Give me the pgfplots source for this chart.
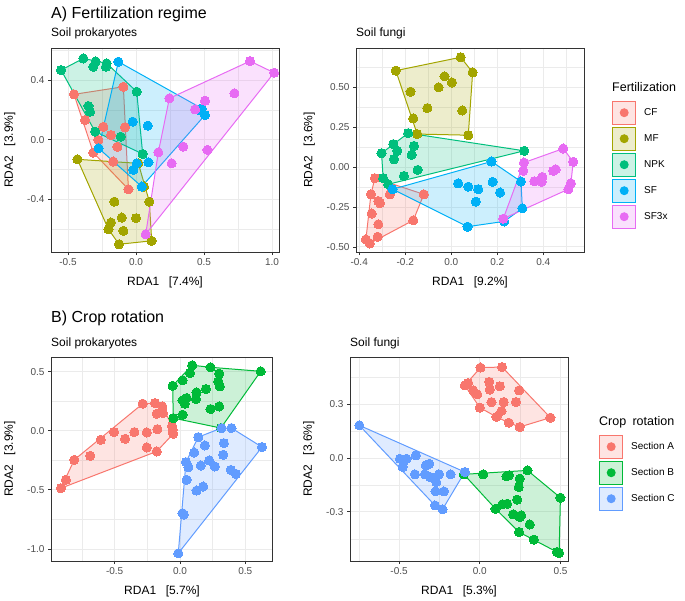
\documentclass[border=0pt]{standalone}
\usepackage{fontspec}
\setmainfont{Liberation Sans}
\usepackage{pgfplots}
\pgfplotsset{compat=1.18}

% ggplot hue palette
\definecolor{cCF}{HTML}{F8766D}
\definecolor{cMF}{HTML}{A3A500}
\definecolor{cNPK}{HTML}{00BF7D}
\definecolor{cSF}{HTML}{00B0F6}
\definecolor{cSFx}{HTML}{E76BF3}
\definecolor{cA}{HTML}{F8766D}
\definecolor{cB}{HTML}{00BA38}
\definecolor{cC}{HTML}{619CFF}
\definecolor{gborder}{HTML}{333333}
\definecolor{gtext}{HTML}{4D4D4D}
\definecolor{ggrid}{HTML}{EBEBEB}

\pgfplotsset{
  rda/.style={
    scale only axis, anchor=north west,
    axis line style={draw=gborder, line width=1pt},
    tick align=outside, tick pos=left,
    major tick length=3pt, minor tick length=0pt,
    tick style={gborder, line width=0.8pt},
    grid=both,
    major grid style={draw=ggrid, line width=0.9pt},
    minor grid style={draw=ggrid, line width=0.45pt},
    tick label style={font=\fontsize{10}{12}\selectfont, text=gtext},
    label style={font=\fontsize{12}{14}\selectfont},
    xlabel style={yshift=-4pt},
    ylabel style={yshift=5pt},
    /pgf/number format/assume math mode=true,
  },
  hull/.style={forget plot, draw=#1, fill=#1, fill opacity=0.2, line width=1pt},
  pts/.style={forget plot, only marks, mark=*, mark size=4.6pt, color=#1, mark options={line width=0pt}},
  keys/.style={
    legend style={at={#1}, anchor=north west, draw=none, fill=none, inner sep=0pt,
      row sep=2pt, column sep=8pt, font=\fontsize{10}{12}\selectfont,
      nodes={inner sep=0pt, anchor=west}},
    legend image code/.code={
      \draw[##1, line width=1pt, fill opacity=0.2] (0pt,-11.5pt) rectangle (23pt,11.5pt);
      \fill[##1, draw=none, fill opacity=1] (11.5pt,0pt) circle (4.5pt);
    },
  },
}

\begin{document}
\begin{tikzpicture}
\path (0pt,0pt) rectangle (685pt,-600pt);

\node[anchor=base west, inner sep=0pt, font=\fontsize{16}{18}\selectfont] at (51pt,-18pt) {A) Fertilization regime};
\node[anchor=base west, inner sep=0pt, font=\fontsize{12}{14}\selectfont] at (51pt,-36pt) {Soil prokaryotes};
\node[anchor=base west, inner sep=0pt, font=\fontsize{12}{14}\selectfont] at (356pt,-36pt) {Soil fungi};
\node[anchor=base west, inner sep=0pt, font=\fontsize{16}{18}\selectfont] at (51pt,-322pt) {B) Crop rotation};
\node[anchor=base west, inner sep=0pt, font=\fontsize{12}{14}\selectfont] at (51pt,-346pt) {Soil prokaryotes};
\node[anchor=base west, inner sep=0pt, font=\fontsize{12}{14}\selectfont] at (350pt,-346pt) {Soil fungi};
\node[anchor=base west, inner sep=0pt, font=\fontsize{12.5}{14}\selectfont] at (612pt,-91pt) {Fertilization};
\node[anchor=base west, inner sep=0pt, font=\fontsize{12.5}{14}\selectfont] at (599pt,-425pt) {Crop\hspace{0.5em}rotation};

% ---------- A) prokaryotes ----------
\begin{axis}[rda, at={(51pt,-48pt)}, width=228pt, height=204pt,
  xmin=-0.625, xmax=1.051, ymin=-0.754, ymax=0.615,
  xtick={-0.5,0,0.5,1}, xticklabels={-0.5,0.0,0.5,1.0},
  ytick={-0.4,0,0.4}, yticklabels={-0.4,0.0,0.4},
  minor xtick={-0.25,0.25,0.75}, minor ytick={-0.6,-0.2,0.2,0.6},
  xlabel={RDA1\hspace{0.8em}[7.4\%]}, ylabel={RDA2\hspace{0.8em}[3.9\%]}]
\addplot[hull=cCF] coordinates {(-0.456,0.304) (-0.093,0.355) (-0.056,-0.333) (-0.314,-0.087)} --cycle;
\addplot[hull=cMF] coordinates {(-0.431,-0.132) (0.017,-0.159) (0.098,-0.416) (0.115,-0.679) (-0.125,-0.702) (-0.203,-0.601)} --cycle;
\addplot[hull=cNPK] coordinates {(-0.551,0.467) (-0.387,0.545) (-0.216,0.512) (0.005,0.322) (0.049,-0.096) (-0.301,0.054)} --cycle;
\addplot[hull=cSF] coordinates {(-0.130,0.523) (0.483,0.210) (0.507,0.165) (0.042,-0.315) (-0.275,-0.058)} --cycle;
\addplot[hull=cSFx] coordinates {(0.245,0.277) (0.838,0.527) (1.015,0.449) (0.071,-0.635) (0.164,-0.085)} --cycle;
\addplot[pts=cCF] coordinates {(-0.456,0.304) (-0.093,0.355) (-0.375,0.132) (-0.240,0.087) (-0.184,0.031) (-0.081,0.083) (-0.277,-0.002) (-0.137,-0.047) (-0.314,-0.087) (-0.167,-0.147) (-0.056,-0.333)};
\addplot[pts=cMF] coordinates {(-0.431,-0.132) (0.017,-0.159) (0.059,-0.315) (0.098,-0.416) (-0.159,-0.416) (-0.105,-0.523) (0.000,-0.527) (-0.184,-0.556) (-0.203,-0.601) (-0.093,-0.612) (-0.125,-0.702) (0.115,-0.679)};
\addplot[pts=cNPK] coordinates {(-0.551,0.467) (-0.387,0.545) (-0.297,0.525) (-0.314,0.489) (-0.216,0.512) (-0.221,0.489) (0.005,0.322) (-0.350,0.226) (-0.338,0.188) (-0.301,0.054) (-0.113,0.020) (0.049,-0.096)};
\addplot[pts=cSF] coordinates {(-0.130,0.523) (0.483,0.210) (0.475,0.195) (0.507,0.165) (-0.025,0.121) (0.086,0.094) (-0.275,-0.058) (0.005,-0.159) (-0.020,-0.203) (0.091,-0.152) (0.042,-0.315)};
\addplot[pts=cSFx] coordinates {(0.838,0.527) (1.015,0.449) (0.723,0.311) (0.245,0.277) (0.507,0.261) (0.434,0.203) (0.164,-0.085) (0.348,-0.047) (0.262,-0.159) (0.525,-0.069) (0.071,-0.635)};
\end{axis}

% ---------- A) fungi ----------
\begin{axis}[rda, keys={(1.1228,0.7426)}, at={(356pt,-48pt)}, width=228pt, height=204pt,
  xmin=-0.414, xmax=0.577, ymin=-0.532, ymax=0.748,
  xtick={-0.4,-0.2,0,0.2,0.4}, xticklabels={-0.4,-0.2,0.0,0.2,0.4},
  ytick={-0.5,-0.25,0,0.25,0.5}, yticklabels={-0.50,-0.25,0.00,0.25,0.50},
  minor xtick={-0.3,-0.1,0.1,0.3,0.5}, minor ytick={-0.375,-0.125,0.125,0.375,0.625},
  xlabel={RDA1\hspace{0.8em}[9.2\%]}, ylabel={RDA2\hspace{0.8em}[3.6\%]}]
\addlegendimage{draw=cCF, fill=cCF}\addlegendentry{CF}
\addlegendimage{draw=cMF, fill=cMF}\addlegendentry{MF}
\addlegendimage{draw=cNPK, fill=cNPK}\addlegendentry{NPK}
\addlegendimage{draw=cSF, fill=cSF}\addlegendentry{SF}
\addlegendimage{draw=cSFx, fill=cSFx}\addlegendentry{SF3x}
\addplot[hull=cCF] coordinates {(-0.332,-0.069) (-0.119,-0.170) (-0.165,-0.333) (-0.354,-0.478) (-0.371,-0.453) (-0.349,-0.170)} --cycle;
\addplot[hull=cMF] coordinates {(-0.241,0.606) (0.041,0.690) (0.093,0.595) (0.074,0.201) (-0.148,0.208)} --cycle;
\addplot[hull=cNPK] coordinates {(-0.303,0.088) (-0.187,0.214) (0.317,0.103) (-0.274,-0.107) (-0.296,-0.069)} --cycle;
\addplot[hull=cSF] coordinates {(-0.255,-0.138) (0.175,0.036) (0.303,-0.090) (0.309,-0.258) (0.230,-0.340) (0.071,-0.373)} --cycle;
\addplot[hull=cSFx] coordinates {(0.226,-0.323) (0.316,0.029) (0.487,0.117) (0.530,0.034) (0.520,-0.101) (0.509,-0.138)} --cycle;
\addplot[pts=cCF] coordinates {(-0.332,-0.069) (-0.349,-0.170) (-0.317,-0.212) (-0.310,-0.226) (-0.267,-0.170) (-0.119,-0.170) (-0.346,-0.291) (-0.317,-0.358) (-0.165,-0.333) (-0.320,-0.436) (-0.371,-0.453) (-0.354,-0.478)};
\addplot[pts=cMF] coordinates {(-0.241,0.606) (0.041,0.690) (0.093,0.595) (-0.029,0.570) (0.003,0.532) (-0.055,0.501) (-0.177,0.474) (-0.104,0.371) (0.048,0.356) (-0.165,0.306) (-0.148,0.208) (0.074,0.201)};
\addplot[pts=cNPK] coordinates {(-0.187,0.214) (-0.252,0.145) (-0.162,0.134) (-0.235,0.103) (-0.303,0.088) (-0.172,0.078) (-0.249,0.050) (-0.146,-0.017) (-0.206,-0.055) (-0.296,-0.069) (-0.274,-0.107) (0.317,0.103)};
\addplot[pts=cSF] coordinates {(-0.255,-0.138) (0.175,0.036) (0.303,-0.090) (0.309,-0.258) (0.230,-0.340) (0.071,-0.373) (0.030,-0.101) (0.074,-0.122) (0.117,-0.138) (0.180,-0.092) (0.212,-0.159) (0.107,-0.216)};
\addplot[pts=cSFx] coordinates {(0.487,0.117) (0.530,0.034) (0.316,0.029) (0.313,-0.023) (0.454,-0.013) (0.443,-0.023) (0.396,-0.061) (0.361,-0.088) (0.393,-0.092) (0.520,-0.101) (0.509,-0.138) (0.226,-0.323)};
\end{axis}

% ---------- B) prokaryotes ----------
\begin{axis}[rda, at={(51pt,-357pt)}, width=222pt, height=204pt,
  xmin=-0.987, xmax=0.712, ymin=-1.102, ymax=0.624,
  xtick={-0.5,0,0.5}, xticklabels={-0.5,0.0,0.5},
  ytick={-1,-0.5,0,0.5}, yticklabels={-1.0,-0.5,0.0,0.5},
  minor xtick={-0.75,-0.25,0.25}, minor ytick={-0.75,-0.25,0.25},
  xlabel={RDA1\hspace{0.8em}[5.7\%]}, ylabel={RDA2\hspace{0.8em}[3.9\%]}]
\addplot[hull=cA] coordinates {(-0.911,-0.486) (-0.809,-0.246) (-0.285,0.229) (-0.191,0.234) (-0.135,0.206) (-0.060,0.040) (-0.051,-0.025) (-0.178,-0.175)} --cycle;
\addplot[hull=cB] coordinates {(-0.056,0.381) (0.094,0.554) (0.234,0.537) (0.618,0.503) (0.313,0.023) (-0.051,0.107)} --cycle;
\addplot[hull=cC] coordinates {(-0.013,-1.037) (0.046,-0.266) (0.140,-0.054) (0.318,0.023) (0.394,0.023) (0.628,-0.138)} --cycle;
\addplot[pts=cA] coordinates {(-0.911,-0.486) (-0.873,-0.415) (-0.809,-0.246) (-0.687,-0.212) (-0.606,-0.076) (-0.504,-0.011) (-0.420,-0.068) (-0.349,-0.011) (-0.285,0.229) (-0.254,-0.014) (-0.191,0.234) (-0.254,-0.141) (-0.178,-0.175) (-0.173,0.014) (-0.135,0.206) (-0.130,0.150) (-0.178,0.144) (-0.056,0.008) (-0.051,-0.025) (-0.060,0.040)};
\addplot[pts=cB] coordinates {(0.094,0.554) (0.234,0.537) (0.618,0.503) (-0.056,0.381) (0.020,0.427) (0.076,0.489) (0.300,0.483) (0.293,0.418) (0.305,0.376) (0.127,0.325) (0.198,0.353) (0.122,0.268) (0.051,0.277) (0.020,0.257) (0.038,0.229) (0.234,0.184) (0.300,0.206) (0.020,0.136) (-0.051,0.107) (0.313,0.023)};
\addplot[pts=cC] coordinates {(-0.013,-1.037) (0.020,-0.698) (0.030,-0.710) (0.140,-0.054) (0.191,-0.124) (0.109,-0.184) (0.046,-0.266) (0.064,-0.308) (0.160,-0.294) (0.224,-0.251) (0.267,-0.302) (0.051,-0.415) (0.127,-0.506) (0.178,-0.472) (0.336,-0.105) (0.331,-0.203) (0.394,0.023) (0.318,0.023) (0.389,-0.331) (0.427,-0.364) (0.628,-0.138)};
\end{axis}

% ---------- B) fungi ----------
\begin{axis}[rda, keys={(1.1422,0.620)}, at={(350pt,-357pt)}, width=218pt, height=204pt,
  xmin=-0.804, xmax=0.546, ymin=-0.574, ymax=0.563,
  xtick={-0.5,0,0.5}, xticklabels={-0.5,0.0,0.5},
  ytick={-0.3,0,0.3}, yticklabels={-0.3,0.0,0.3},
  minor xtick={-0.75,-0.25,0.25}, minor ytick={-0.45,-0.15,0.15,0.45},
  xlabel={RDA1\hspace{0.8em}[5.3\%]}, ylabel={RDA2\hspace{0.8em}[3.6\%]}]
\addlegendimage{draw=cA, fill=cA}\addlegendentry{Section A}
\addlegendimage{draw=cB, fill=cB}\addlegendentry{Section B}
\addlegendimage{draw=cC, fill=cC}\addlegendentry{Section C}
\addplot[hull=cA] coordinates {(-0.093,0.405) (0.004,0.504) (0.138,0.507) (0.437,0.225) (0.247,0.173) (0.179,0.197) (0.103,0.229) (0.000,0.281)} --cycle;
\addplot[hull=cB] coordinates {(-0.099,-0.091) (0.295,-0.069) (0.499,-0.221) (0.491,-0.530) (0.478,-0.524) (0.243,-0.413) (0.097,-0.283)} --cycle;
\addplot[hull=cC] coordinates {(-0.746,0.182) (-0.093,-0.078) (-0.231,-0.286) (-0.278,-0.264)} --cycle;
\addplot[pts=cA] coordinates {(0.004,0.504) (0.138,0.507) (-0.093,0.405) (-0.072,0.418) (-0.041,0.377) (-0.016,0.355) (0.058,0.424) (0.062,0.381) (0.124,0.400) (0.243,0.377) (0.000,0.281) (0.072,0.312) (0.223,0.312) (0.148,0.312) (0.134,0.262) (0.103,0.229) (0.179,0.197) (0.247,0.173) (0.437,0.225)};
\addplot[pts=cB] coordinates {(-0.099,-0.091) (0.021,-0.091) (0.165,-0.102) (0.181,-0.096) (0.295,-0.069) (0.247,-0.115) (0.241,-0.162) (0.231,-0.232) (0.097,-0.283) (0.140,-0.258) (0.169,-0.255) (0.206,-0.314) (0.247,-0.329) (0.256,-0.320) (0.309,-0.370) (0.243,-0.413) (0.334,-0.455) (0.499,-0.221) (0.478,-0.524) (0.491,-0.530)};
\addplot[pts=cC] coordinates {(-0.746,0.182) (-0.396,0.015) (-0.495,-0.004) (-0.474,-0.022) (-0.454,-0.004) (-0.478,-0.050) (-0.402,-0.091) (-0.334,-0.041) (-0.313,-0.032) (-0.340,-0.091) (-0.307,-0.106) (-0.253,-0.091) (-0.270,-0.134) (-0.274,-0.186) (-0.222,-0.186) (-0.181,-0.091) (-0.278,-0.264) (-0.231,-0.286) (-0.093,-0.078)};
\end{axis}
\end{tikzpicture}
\end{document}
